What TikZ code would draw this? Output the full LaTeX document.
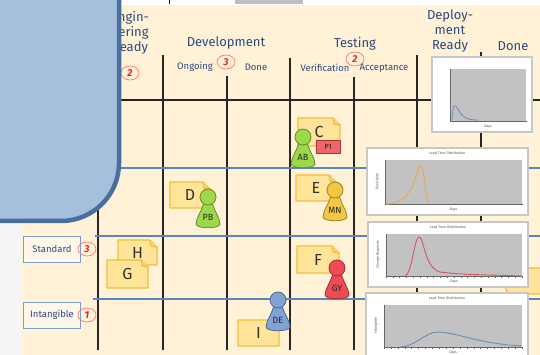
\documentclass[tikz,border=0pt]{standalone}
\usepackage{fontspec}
\setmainfont{Fira Sans}
\usetikzlibrary{shapes.geometric, positioning}

\definecolor{cream}{HTML}{FFF2D6}
\definecolor{headblue}{HTML}{2B4C7E}
\definecolor{lane}{HTML}{5A86C0}
\definecolor{panelfill}{HTML}{A5BFDD}
\definecolor{panelline}{HTML}{47709F}
\definecolor{notefill}{HTML}{FFE49A}
\definecolor{noteline}{HTML}{F2BD3A}
\definecolor{wip}{HTML}{D92B2B}
\definecolor{pgreen}{HTML}{9CD84A}
\definecolor{pyellow}{HTML}{F2C744}
\definecolor{pred}{HTML}{EE4B55}
\definecolor{pblue}{HTML}{7EA3D4}
\definecolor{fixedc}{HTML}{E8A94A}
\definecolor{changec}{HTML}{D9555E}
\definecolor{intangc}{HTML}{6A8DBA}

\tikzset{
  col/.style={line width=1.4pt, black!85},
  lanes/.style={line width=1.1pt, lane},
  head/.style={text=headblue, align=center, font=\fontsize{13}{15}\selectfont},
  subhead/.style={text=headblue, font=\fontsize{9.5}{11}\selectfont},
  limit/.style={ellipse, draw=red!55, line width=0.7pt, text=wip, inner sep=0pt,
    minimum width=18pt, minimum height=14pt, font=\bfseries\itshape\fontsize{10}{10}\selectfont},
  note/.style={fill=notefill, draw=noteline, line width=1.2pt, line join=round},
  notetext/.style={font=\fontsize{16}{16}\selectfont, text=black!80},
  pawntext/.style={font=\fontsize{9}{9}\selectfont, text=black!85},
  rowbox/.style={draw=lane!80, fill=white!50!cream, line width=0.8pt, text=headblue,
    minimum width=57pt, minimum height=26pt, inner sep=0pt, font=\fontsize{9.5}{11}\selectfont},
  chart/.style={fill=white, draw=black!22, line width=1.6pt},
  plotarea/.style={fill=black!24},
  tinytext/.style={font=\fontsize{3.5}{4}\selectfont, text=black!70, inner sep=0pt},
}

% sticky note: name, x1, y1, x2, y2, letter
\newcommand{\sticky}[6]{%
  \draw[note] (#2,#3) -- ({#4-7},#3) -- (#4,{#3+7}) -- (#4,#5) -- (#2,#5) -- cycle;
  \draw[note, fill=notefill!60!noteline] ({#4-7},#3) -- ({#4-6},{#3+6}) -- (#4,{#3+7});
  \node[notetext] (#1) at ({(#2+#4)/2},{(#3+#5)/2}) {#6};
}

% team member pawn: name, x, y (head), colour, initials
\newcommand{\pawn}[5]{%
  \draw[fill=#4, draw=#4!65!black, line width=0.8pt]
    ({#2-4},{#3+5}) .. controls ({#2-6},{#3+14}) and ({#2-12},{#3+21}) .. ({#2-12},{#3+27})
    .. controls ({#2-12},{#3+32}) and ({#2+12},{#3+32}) .. ({#2+12},{#3+27})
    .. controls ({#2+12},{#3+21}) and ({#2+6},{#3+14}) .. ({#2+4},{#3+5}) -- cycle;
  \draw[fill=#4, draw=#4!65!black, line width=0.8pt] (#2,#3) circle (8pt);
  \node[pawntext] (#1) at (#2,{#3+20}) {#5};
}

% lead time chart: x1, y1, x2, y2, title, y label
\newcommand{\leadchart}[6]{%
  \draw[chart] (#1,#2) rectangle (#3,#4);
  \fill[plotarea] ({#1+18},{#2+12}) rectangle ({#3-6},{#4-11});
  \draw[black!60, line width=0.4pt] ({#1+18},{#2+12}) -- ({#1+18},{#4-11}) -- ({#3-6},{#4-11});
  \foreach \k in {0,...,20}
    \draw[black!60, line width=0.3pt] ({#1+18+\k*(#3-#1-24)/20},{#4-11}) -- ++(0,1.5);
  \node[tinytext] at ({(#1+#3)/2},{#2+5}) {#5};
  \node[tinytext, rotate=90] at ({#1+10},{(#2+#4)/2}) {#6};
  \node[tinytext] at ({(#1+#3)/2+6},{#4-5}) {Days};
}

\begin{document}
\begin{tikzpicture}[x=1pt, y=-1pt]
\useasboundingbox (0,0) rectangle (540,355);
\clip (0,0) rectangle (540,355);

% Board background
\fill[black!4] (0,0) rectangle (540,355);
\fill[cream] (22,5) rectangle (540,355);
\fill[white] (0,0) rectangle (540,5);
\fill[black!25] (235,0) rectangle (303,4.5);
\draw[black, line width=0.8pt] (169,0) -- (169,4);

% Columns
\foreach \x/\top in {98/5, 163/55, 227/76, 290/58, 354/77, 417/55, 481/52} {
    \draw[col] (\x,\top) -- (\x,350);
}
\draw[col] (98,100) -- (540,100);

% Swim lanes
\draw[lanes] (0,168) -- (540,168);
\draw[lanes] (95,236) -- (540,236);
\draw[lanes] (93,299) -- (540,299);

% Column headers
\node[head] (eng) at (130,33) {Engin-\\eering\\Ready};
\node[limit] (engLimit) at (130,73) {2};
\node[head] (dev) at (226,43) {Development};
\node[subhead] (devOn) at (195,67) {Ongoing};
\node[limit] (devLimit) at (226,62) {3};
\node[subhead] (devDone) at (256,67) {Done};
\node[head] (test) at (355,44) {Testing};
\node[limit] (testLimit) at (355,59) {2};
\node[subhead] (testVer) at (325,68) {Verification};
\node[subhead] (testAcc) at (384,68) {Acceptance};
\node[head] (deploy) at (450,31) {Deploy-\\ment\\Ready};
\node[head] (done) at (513,46) {Done};

% Class of service rows
\node[rowbox] (standard) at (52,249) {Standard};
\node[limit] (stdLimit) at (87,249) {3};
\node[rowbox] (intangible) at (52,315) {Intangible};
\node[limit] (intLimit) at (87,315) {1};

% Work items
\sticky{noteC}{298}{118}{340}{146}{C}
\draw[fill=pred!85, draw=pred!70!black, line width=0.6pt] (316,140) rectangle (340,153);
\node[pawntext, font=\fontsize{7.5}{8}\selectfont] (tagP) at (328,146.5) {P1};
\pawn{pawnAB}{303}{137}{pgreen}{AB}
\sticky{noteE}{296}{175}{336}{201}{E}
\pawn{pawnMN}{335}{190}{pyellow}{MN}
\sticky{noteD}{170}{182}{210}{208}{D}
\pawn{pawnPB}{208}{197}{pgreen}{PB}
\sticky{noteH}{118}{240}{157}{265}{H}
\sticky{noteG}{107}{260}{148}{288}{G}
\sticky{noteF}{297}{246}{339}{273}{F}
\pawn{pawnGY}{337}{268}{pred}{GY}
\sticky{noteI}{238}{320}{279}{346}{I}
\pawn{pawnDE}{278}{300}{pblue}{DE}
\draw[note, rounded corners=8pt] (505,268) -- (548,268) -- (548,294) -- (505,294) -- cycle;

% Lead time charts
\leadchart{432}{57}{532}{132}{}{}
\draw[intangc, line width=0.8pt] (452,120) .. controls (453,102) and (455,104) .. (458,109)
  .. controls (462,117) and (466,120) .. (478,120);
\leadchart{367}{148}{528}{215}{Lead Time Distribution}{Fixed Date}
\draw[fixedc, line width=0.9pt] (386,204) .. controls (404,204) and (412,192) .. (418,170)
  .. controls (420,162) and (423,164) .. (425,185) -- (428,204);
\leadchart{368}{222}{528}{287}{Lead Time Distribution}{Change Requests}
\draw[changec, line width=0.9pt] (405,276) .. controls (412,274) and (414,238) .. (419,237)
  .. controls (424,236) and (424,268) .. (440,272) .. controls (460,275) and (500,275) .. (522,276);
\leadchart{366}{293}{528}{358}{Lead Time Distribution}{Intangible}
\draw[intangc, line width=0.9pt] (400,347) .. controls (415,347) and (425,332) .. (438,332)
  .. controls (455,332) and (480,344) .. (522,346);

% Side panel
\fill[panelfill, draw=panelline, line width=4.5pt, rounded corners=58pt] (-100,-100) rectangle (119,221);
\end{tikzpicture}
\end{document}
